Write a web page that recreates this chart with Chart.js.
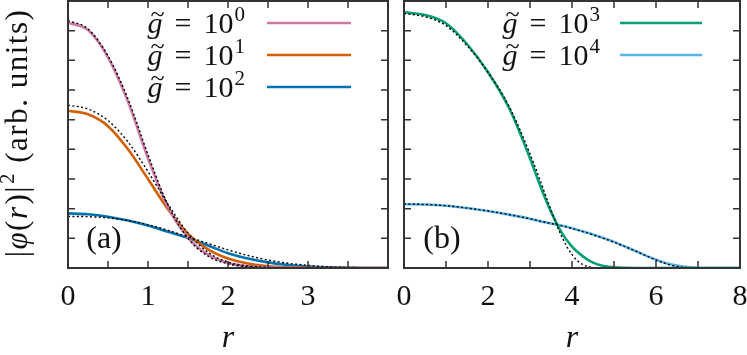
<!DOCTYPE html>
<html lang="en">
<head>
<meta charset="UTF-8">
<title>Density profiles</title>
<script src="https://cdn.jsdelivr.net/npm/chart.js"></script>
<style>
  body { margin: 0; background: #fff; }
  #wrap { position: relative; width: 747px; height: 355px; }
  canvas { position: absolute; top: 0; }
  #left { left: 0; }
  #right { left: 395px; }
</style>
</head>
<body>
<div id="wrap">
  <canvas id="left" width="395" height="355"></canvas>
  <canvas id="right" width="352" height="355"></canvas>
</div>
<script>
// r grid of each panel
const rA = [0, 0.25, 0.5, 0.75, 1, 1.25, 1.5, 1.75, 2, 2.25, 2.5, 2.75, 3, 3.25, 3.5, 3.75, 4];
const rB = [0, 0.5, 1, 1.5, 2, 2.5, 3, 3.25, 3.5, 3.75, 4, 4.25, 4.5, 4.75, 5, 5.5, 6, 6.25, 6.5, 6.75, 7, 7.5, 8];

// panel (a): numerical profiles and the dotted approximations
const g1    = [8.27, 8.02, 7.10, 5.60, 3.70, 2.05, 1.02, 0.45, 0.17, 0.06, 0.02, 0.005, 0, 0, 0, 0, 0];
const g1Fit = [8.34, 8.06, 7.15, 5.70, 3.82, 2.12, 1.00, 0.40, 0.14, 0.04, 0.01, 0, 0, 0, 0, 0, 0];
const g10    = [5.30, 5.18, 4.78, 4.00, 3.00, 1.98, 1.15, 0.63, 0.32, 0.15, 0.06, 0.02, 0.006, 0, 0, 0, 0];
const g10Fit = [5.49, 5.36, 4.97, 4.25, 3.25, 2.15, 1.18, 0.53, 0.20, 0.07, 0.02, 0.005, 0, 0, 0, 0, 0];
const g100    = [1.84, 1.81, 1.73, 1.60, 1.43, 1.22, 1.01, 0.76, 0.50, 0.32, 0.19, 0.10, 0.05, 0.02, 0.01, 0, 0];
const g100Fit = [1.74, 1.73, 1.69, 1.60, 1.46, 1.27, 1.05, 0.83, 0.61, 0.42, 0.27, 0.16, 0.09, 0.04, 0.02, 0.01, 0];

// panel (b)
const g1e3    = [8.62, 8.53, 8.25, 7.55, 6.60, 5.40, 3.70, 2.75, 1.90, 1.20, 0.72, 0.40, 0.18, 0.07, 0.02, 0, 0, 0, 0, 0, 0, 0, 0];
const g1e3Fit = [8.58, 8.47, 8.17, 7.50, 6.60, 5.45, 3.85, 2.92, 1.95, 1.08, 0.45, 0.12, 0.02, 0, 0, 0, 0, 0, 0, 0, 0, 0, 0];
const g1e4    = [2.15, 2.14, 2.10, 2.02, 1.92, 1.80, 1.66, 1.57, 1.50, 1.43, 1.34, 1.24, 1.13, 1.01, 0.88, 0.58, 0.28, 0.16, 0.08, 0.035, 0.01, 0, 0];
const g1e4Fit = [2.16, 2.14, 2.10, 2.02, 1.92, 1.80, 1.66, 1.58, 1.50, 1.42, 1.33, 1.23, 1.12, 1.00, 0.87, 0.58, 0.27, 0.14, 0.05, 0.01, 0, 0, 0];

const leftTickLabels = [0, 1, 2, 3];
const rightTickLabels = [0, 2, 4, 6, 8];
const exponentsA = ['0', '1', '2'];
const exponentsB = ['3', '4'];

const SERIF = '"Liberation Serif"';

function pts(xs, ys) { return xs.map((x, i) => ({ x: x, y: ys[i] })); }

function curve(xs, ys, color, exp) {
  return { data: pts(xs, ys), borderColor: color, borderWidth: 2.6, exp: exp, order: 1 };
}
function dotted(xs, ys) {
  return { data: pts(xs, ys), borderColor: '#000', borderWidth: 1.4, borderDash: [2, 2.4], order: 0 };
}

// inward ticks on all four sides plus the frame
const frame = {
  id: 'frame',
  afterDatasetsDraw(chart) {
    const { ctx, chartArea: a, scales: { x, y } } = chart;
    const len = 7;
    ctx.save();
    ctx.strokeStyle = '#333';
    ctx.lineWidth = 1.5;
    ctx.beginPath();
    x.ticks.forEach(t => {
      const px = x.getPixelForValue(t.value);
      ctx.moveTo(px, a.bottom); ctx.lineTo(px, a.bottom - len);
      ctx.moveTo(px, a.top); ctx.lineTo(px, a.top + len);
    });
    y.ticks.forEach(t => {
      const py = y.getPixelForValue(t.value);
      ctx.moveTo(a.left, py); ctx.lineTo(a.left + len, py);
      ctx.moveTo(a.right, py); ctx.lineTo(a.right - len, py);
    });
    ctx.stroke();
    ctx.lineWidth = 2;
    ctx.strokeRect(a.left, a.top, a.width, a.height);
    ctx.restore();
  }
};

// draws a run of [text, font, dy, extra] pieces from x, returns the width
function run(ctx, pieces, x, y, draw) {
  let w = 0;
  pieces.forEach(p => {
    ctx.font = p[1];
    if (draw) ctx.fillText(p[0], x + w, y + (p[2] || 0));
    w += ctx.measureText(p[0]).width + (p[3] || 0);
  });
  return w;
}

// key in the corner: "g~ = 10^n" then a line sample, the panel tag, the y title
const key = {
  id: 'key',
  afterDraw(chart, args, o) {
    const ctx = chart.ctx;
    const big = '30px ' + SERIF, it = 'italic 30px ' + SERIF, sup = '21px ' + SERIF;
    ctx.save();
    ctx.fillStyle = '#111';
    ctx.textBaseline = 'alphabetic';
    ctx.textAlign = 'left';
    const sets = chart.data.datasets.filter(d => d.exp);
    sets.forEach((d, i) => {
      const mid = o.rows[i];
      const base = mid + 10;
      const pieces = [['g', it, 0, 12], ['=', big, 0, 12], ['10', big, 0, 1], [d.exp, sup, -12, 0]];
      const w = run(ctx, pieces, 0, 0, false);
      const x0 = o.textRight - w;
      run(ctx, pieces, x0, base, true);
      ctx.font = '26px ' + SERIF;
      ctx.fillText('~', x0 + 3, base - 11);

      ctx.strokeStyle = d.borderColor;
      ctx.lineWidth = d.borderWidth;
      ctx.beginPath();
      ctx.moveTo(o.lineX0, mid);
      ctx.lineTo(o.lineX1, mid);
      ctx.stroke();
    });
    ctx.font = '32px ' + SERIF;
    ctx.textAlign = 'center';
    ctx.textBaseline = 'middle';
    ctx.fillText(o.tag, o.tagX, o.tagY);

    if (o.yTitle) {
      const f = '31px ' + SERIF, fi = 'italic 31px ' + SERIF;
      const pieces = [['|', f], ['φ', fi], ['(', f], ['r', fi, 0, 1], [')', f], ['|', f, 0, 1], ['2', '21px ' + SERIF, -13], [' (arb. units)', f]];
      ctx.textAlign = 'left';
      ctx.textBaseline = 'alphabetic';
      ctx.letterSpacing = '1.5px';
      ctx.translate(27, 133);
      ctx.rotate(-Math.PI / 2);
      const w = run(ctx, pieces, 0, 0, false);
      run(ctx, pieces, -w / 2, 0, true);
    }
    ctx.restore();
  }
};

function makeChart(id, datasets, xMax, step, labels, yWidth, keyOpts) {
  return new Chart(document.getElementById(id), {
    type: 'line',
    data: { datasets: datasets },
    options: {
      responsive: false,
      animation: false,
      devicePixelRatio: 1,
      layout: { padding: { top: 1, right: 7, left: 0, bottom: 0 } },
      elements: {
        point: { radius: 0 },
        line: { cubicInterpolationMode: 'monotone', fill: false }
      },
      plugins: {
        legend: { display: false },
        tooltip: { enabled: false },
        key: keyOpts
      },
      scales: {
        x: {
          type: 'linear',
          min: 0,
          max: xMax,
          afterFit(s) { s.height = 87; s.paddingLeft = 0; s.paddingRight = 0; },
          grid: { display: false, drawTicks: false },
          border: { display: false },
          ticks: {
            stepSize: step,
            autoSkip: false,
            maxRotation: 0,
            padding: 11,
            color: '#111',
            font: { family: SERIF, size: 30 },
            callback: v => labels.includes(v) ? String(v) : ''
          },
          title: {
            display: true,
            text: 'r',
            color: '#111',
            padding: { top: 0, bottom: 0 },
            font: { family: SERIF, size: 32, style: 'italic', lineHeight: 1.0 }
          }
        },
        y: {
          type: 'linear',
          min: 0,
          max: 9,
          afterFit(s) { s.width = yWidth; },
          grid: { display: false, drawTicks: false },
          border: { display: false },
          ticks: { display: false, stepSize: 1 }
        }
      }
    },
    plugins: [frame, key]
  });
}

makeChart('left', [
  curve(rA, g1, '#cc79a7', exponentsA[0]),
  curve(rA, g10, '#d55e00', exponentsA[1]),
  curve(rA, g100, '#0072b2', exponentsA[2]),
  dotted(rA, g1Fit),
  dotted(rA, g10Fit),
  dotted(rA, g100Fit)
], 4, 0.5, leftTickLabels, 68,
  { rows: [23, 55, 87], textRight: 245, lineX0: 267, lineX1: 351, tag: '(a)', tagX: 104, tagY: 240, yTitle: true });

makeChart('right', [
  curve(rB, g1e3, '#009e73', exponentsB[0]),
  curve(rB, g1e4, '#56b4e9', exponentsB[1]),
  dotted(rB, g1e3Fit),
  dotted(rB, g1e4Fit)
], 8, 1, rightTickLabels, 9,
  { rows: [23, 55], textRight: 205, lineX0: 225, lineX1: 307, tag: '(b)', tagX: 47, tagY: 240, yTitle: false });
</script>
</body>
</html>
